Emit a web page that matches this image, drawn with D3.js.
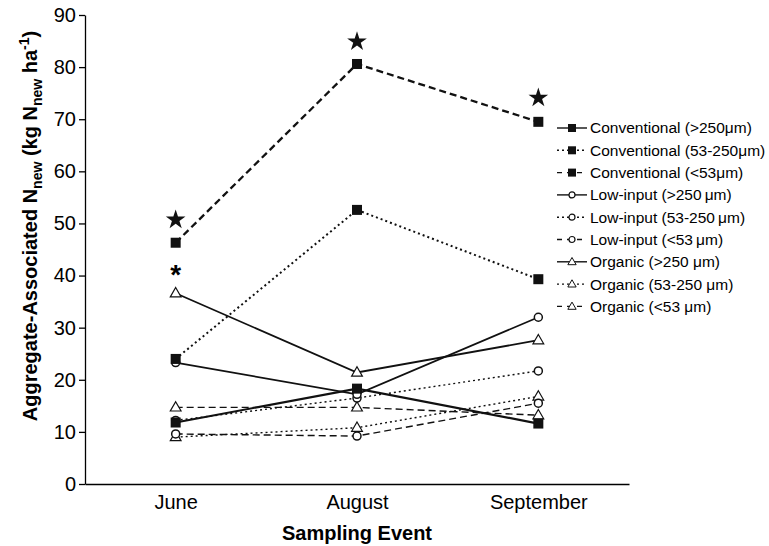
<!DOCTYPE html>
<head>
    <meta charset="utf-8">
    <script src="https://d3js.org/d3.v7.min.js"></script>
    <style>
        html, body { padding: 0; margin: 0; background: #fff; }
        svg { display: block; font-family: "Liberation Sans", Arial, sans-serif; }
        .axis path, .axis line { stroke: #000; stroke-width: 1.3; }
        .axis text { font-size: 20px; fill: #000; }
    </style>
</head>

<body>
<svg width="769" height="546"></svg>
<script>
    var months = ["June", "August", "September"];
    var yTicks = [0, 10, 20, 30, 40, 50, 60, 70, 80, 90];

    // one array per series: June, August, September
    var convLarge  = [11.8, 18.3, 11.6];
    var convMid    = [24.0, 52.6, 39.3];
    var convSmall  = [46.3, 80.6, 69.5];
    var lowLarge   = [23.3, 17.2, 32.0];
    var lowMid     = [12.2, 16.5, 21.7];
    var lowSmall   = [9.6, 9.2, 15.5];
    var orgLarge   = [36.6, 21.4, 27.6];
    var orgMid     = [9.0, 10.8, 16.8];
    var orgSmall   = [14.7, 14.7, 13.2];

    // significance marks above points
    var starMarks = [{m: "June", v: 50.7}, {m: "August", v: 84.9}, {m: "September", v: 74.1}];
    var asteriskMarks = [{m: "June", v: 40.6}];

    var series = [
        {name: "Conventional (>250\u03bcm)",        values: convLarge, marker: "square",   dash: null,  width: 2.2},
        {name: "Conventional (53-250\u03bcm)",      values: convMid,   marker: "square",   dash: "2,3", width: 2},
        {name: "Conventional (<53\u03bcm)",         values: convSmall, marker: "square",   dash: "7,4", width: 2.3},
        {name: "Low-input (>250\u2009\u03bcm)",     values: lowLarge,  marker: "circle",   dash: null,  width: 1.8},
        {name: "Low-input (53-250\u2009\u03bcm)",   values: lowMid,    marker: "circle",   dash: "2,3", width: 1.4},
        {name: "Low-input (<53\u2009\u03bcm)",      values: lowSmall,  marker: "circle",   dash: "7,4", width: 1.4},
        {name: "Organic (>250 \u03bcm)",            values: orgLarge,  marker: "triangle", dash: null,  width: 1.8},
        {name: "Organic (53-250 \u03bcm)",          values: orgMid,    marker: "triangle", dash: "2,3", width: 1.4},
        {name: "Organic (<53 \u03bcm)",             values: orgSmall,  marker: "triangle", dash: "7,4", width: 1.4}
    ];

    var margin = {top: 15, left: 85};
    var width = 629 - margin.left;
    var height = 484 - margin.top;

    var svg = d3.select("svg");
    var g = svg.append("g")
        .attr("transform", "translate(" + margin.left + "," + margin.top + ")");

    var x = d3.scalePoint().domain(months).range([0, width]).padding(0.5);
    var y = d3.scaleLinear().domain([0, 90]).range([height, 0]);

    g.append("g")
        .attr("class", "axis")
        .attr("transform", "translate(0," + height + ")")
        .call(d3.axisBottom(x).tickSize(0).tickSizeOuter(0).tickPadding(11));

    g.append("g")
        .attr("class", "axis")
        .call(d3.axisLeft(y).tickValues(yTicks).tickSize(6).tickSizeOuter(0).tickPadding(3));

    g.selectAll(".axis .domain").attr("fill", "none");

    // axis titles
    g.append("text")
        .attr("x", x("August"))
        .attr("y", height + 56)
        .attr("text-anchor", "middle")
        .style("font-size", "20px")
        .style("font-weight", "bold")
        .text("Sampling Event");

    var yt = svg.append("text")
        .attr("transform", "translate(37,226) rotate(-90)")
        .attr("text-anchor", "middle")
        .style("font-size", "20px")
        .style("font-weight", "bold");
    yt.append("tspan").text("Aggregate-Associated N");
    yt.append("tspan").attr("dy", 5).style("font-size", "14px").text("new");
    yt.append("tspan").attr("dy", -5).text(" (kg N");
    yt.append("tspan").attr("dy", 5).style("font-size", "14px").text("new");
    yt.append("tspan").attr("dy", -5).text(" ha");
    yt.append("tspan").attr("dy", -8).style("font-size", "14px").text("-1");
    yt.append("tspan").attr("dy", 8).text(")");

    var line = d3.line()
        .x(function(d, i) { return x(months[i]); })
        .y(function(d) { return y(d); });

    function drawMarker(sel, type, cx, cy) {
        if (type === "square") {
            sel.append("rect")
                .attr("x", cx - 5).attr("y", cy - 5)
                .attr("width", 10).attr("height", 10)
                .attr("fill", "#111");
        } else if (type === "circle") {
            sel.append("circle")
                .attr("cx", cx).attr("cy", cy).attr("r", 4)
                .attr("fill", "#fff").attr("stroke", "#111").attr("stroke-width", 1.5);
        } else {
            sel.append("path")
                .attr("d", d3.symbol().type(d3.symbolTriangle).size(50)())
                .attr("transform", "translate(" + cx + "," + (cy + 0.5) + ")")
                .attr("fill", "#fff").attr("stroke", "#111").attr("stroke-width", 1.2);
        }
    }

    series.forEach(function(s) {
        g.append("path")
            .attr("d", line(s.values))
            .attr("fill", "none")
            .attr("stroke", "#111")
            .attr("stroke-width", s.width)
            .attr("stroke-dasharray", s.dash);
    });
    // bottom of the list first so squares end on top
    series.slice().reverse().forEach(function(s) {
        var mg = g.append("g");
        s.values.forEach(function(v, i) {
            drawMarker(mg, s.marker, x(months[i]), y(v));
        });
    });

    // stars
    g.selectAll(".star")
        .data(starMarks)
        .enter().append("path")
        .attr("d", d3.symbol().type(d3.symbolStar).size(120)())
        .attr("transform", function(d) { return "translate(" + x(d.m) + "," + y(d.v) + ")"; })
        .attr("fill", "#111");

    g.selectAll(".asterisk")
        .data(asteriskMarks)
        .enter().append("text")
        .attr("x", function(d) { return x(d.m); })
        .attr("y", function(d) { return y(d.v) + 12; })
        .attr("text-anchor", "middle")
        .style("font-size", "28px")
        .style("font-weight", "bold")
        .text("*");

    // legend
    var legend = svg.append("g").attr("transform", "translate(557,128)");
    var item = legend.selectAll(".item")
        .data(series)
        .enter().append("g")
        .attr("transform", function(d, i) { return "translate(0," + (i * 22.3) + ")"; });

    item.append("line")
        .attr("x1", 0).attr("x2", 30)
        .attr("stroke", "#111")
        .attr("stroke-width", 1.4)
        .attr("stroke-dasharray", function(d) { return d.dash ? (d.dash === "2,3" ? "2,3" : "5,5") : null; });

    item.each(function(d) {
        var sel = d3.select(this);
        if (d.marker === "square") {
            sel.append("rect").attr("x", 11).attr("y", -4).attr("width", 8).attr("height", 8).attr("fill", "#111");
        } else if (d.marker === "circle") {
            sel.append("circle").attr("cx", 15).attr("cy", 0).attr("r", 3)
                .attr("fill", "#fff").attr("stroke", "#111").attr("stroke-width", 1.2);
        } else {
            sel.append("path")
                .attr("d", d3.symbol().type(d3.symbolTriangle).size(30)())
                .attr("transform", "translate(15,0.5)")
                .attr("fill", "#fff").attr("stroke", "#111").attr("stroke-width", 1);
        }
    });

    item.append("text")
        .attr("x", 33)
        .attr("dy", "0.35em")
        .style("font-size", "15.5px")
        .text(function(d) { return d.name; });
</script>
</body>
